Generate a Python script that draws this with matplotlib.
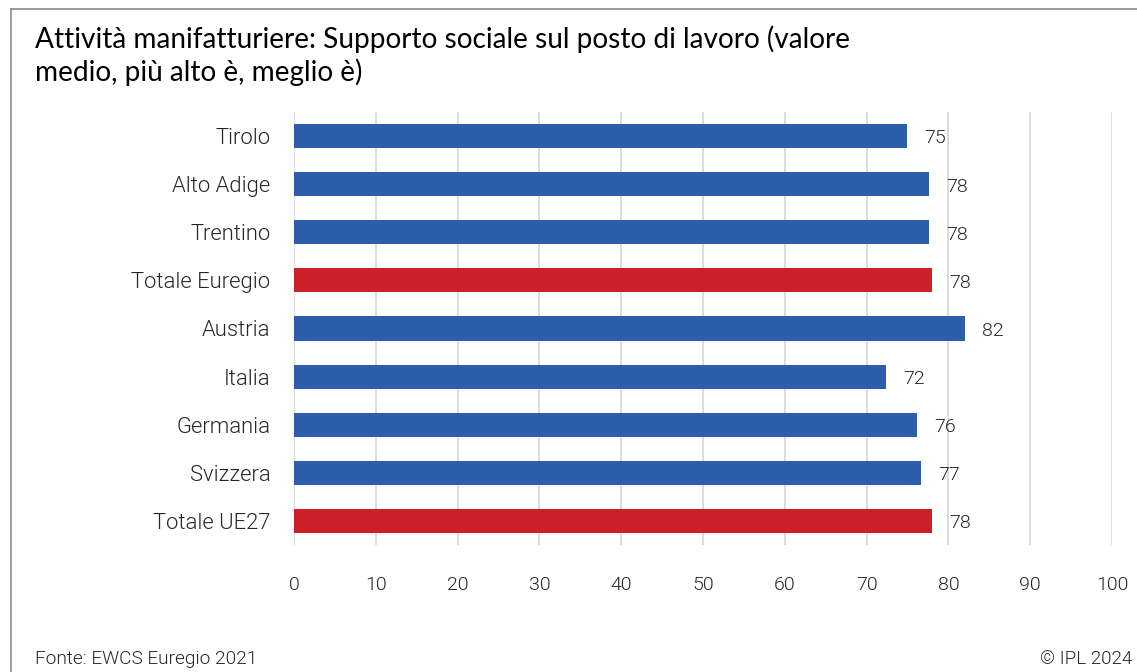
import matplotlib
matplotlib.use("Agg")
import matplotlib.pyplot as plt
from matplotlib.lines import Line2D

# Data
categories = ["Tirolo", "Alto Adige", "Trentino", "Totale Euregio", "Austria",
              "Italia", "Germania", "Svizzera", "Totale UE27"]
values = [74.9, 77.6, 77.6, 78.0, 82.0, 72.4, 76.2, 76.6, 78.0]
highlight = [False, False, False, True, False, False, False, False, True]
xticks = [0, 10, 20, 30, 40, 50, 60, 70, 80, 90, 100]

title = "Attività manifatturiere: Supporto sociale sul posto di lavoro (valore\nmedio, più alto è, meglio è)"
source = "Fonte: EWCS Euregio 2021"
credit = "© IPL 2024"

BLUE = "#2C5EAB"
RED = "#CD1F2A"
TEXT = "#262626"
GRID = "#D9D9D9"
LBL = dict(family=["Roboto", "DejaVu Sans"], fontweight=300, color=TEXT)

plt.rcParams["font.family"] = ["Lato", "DejaVu Sans"]

W, H = 1137, 672
fig = plt.figure(figsize=(W / 100, H / 100), dpi=100)

ax = fig.add_axes([294 / W, 1 - 545 / H, (1112 - 294) / W, (545 - 112) / H])
n = len(categories)
ypos = list(range(n))
colors = [RED if h else BLUE for h in highlight]
ax.barh(ypos, values, height=0.5, color=colors, zorder=3)
ax.set_ylim(n - 0.5, -0.5)
ax.set_xlim(0, 100)

ax.set_xticks(xticks)
ax.set_xticklabels([str(t) for t in xticks], fontsize=14, **LBL)
ax.set_yticks(ypos)
ax.set_yticklabels(categories, fontsize=15.8, **LBL)
ax.tick_params(axis="both", length=0)
ax.tick_params(axis="x", pad=22)
ax.tick_params(axis="y", pad=17)

ax.grid(axis="x", color=GRID, linewidth=1.3, zorder=0)
for s in ax.spines.values():
    s.set_visible(False)

for y, v in zip(ypos, values):
    ax.text(v + 2.1, y + 0.05, f"{v:.0f}", va="center", ha="left",
            fontsize=14, **LBL)

fig.text(35 / W, 1 - 25 / H, title, fontsize=20.2, color="black",
         ha="left", va="top", linespacing=1.25)
fig.text(35 / W, 1 - 664 / H, source, fontsize=13.7, ha="left", va="baseline", **LBL)
fig.text(1132 / W, 1 - 664 / H, credit, fontsize=13.5, ha="right", va="baseline", **LBL)

# Frame lines at top and left
fig.add_artist(Line2D([11 / W, 11 / W], [0, 1 - 9 / H], color="#8C8C8C", linewidth=1.2))
fig.add_artist(Line2D([11 / W, 1], [1 - 9 / H, 1 - 9 / H], color="#8C8C8C", linewidth=1.2))

fig.savefig("out.png", dpi=100, facecolor="white")
